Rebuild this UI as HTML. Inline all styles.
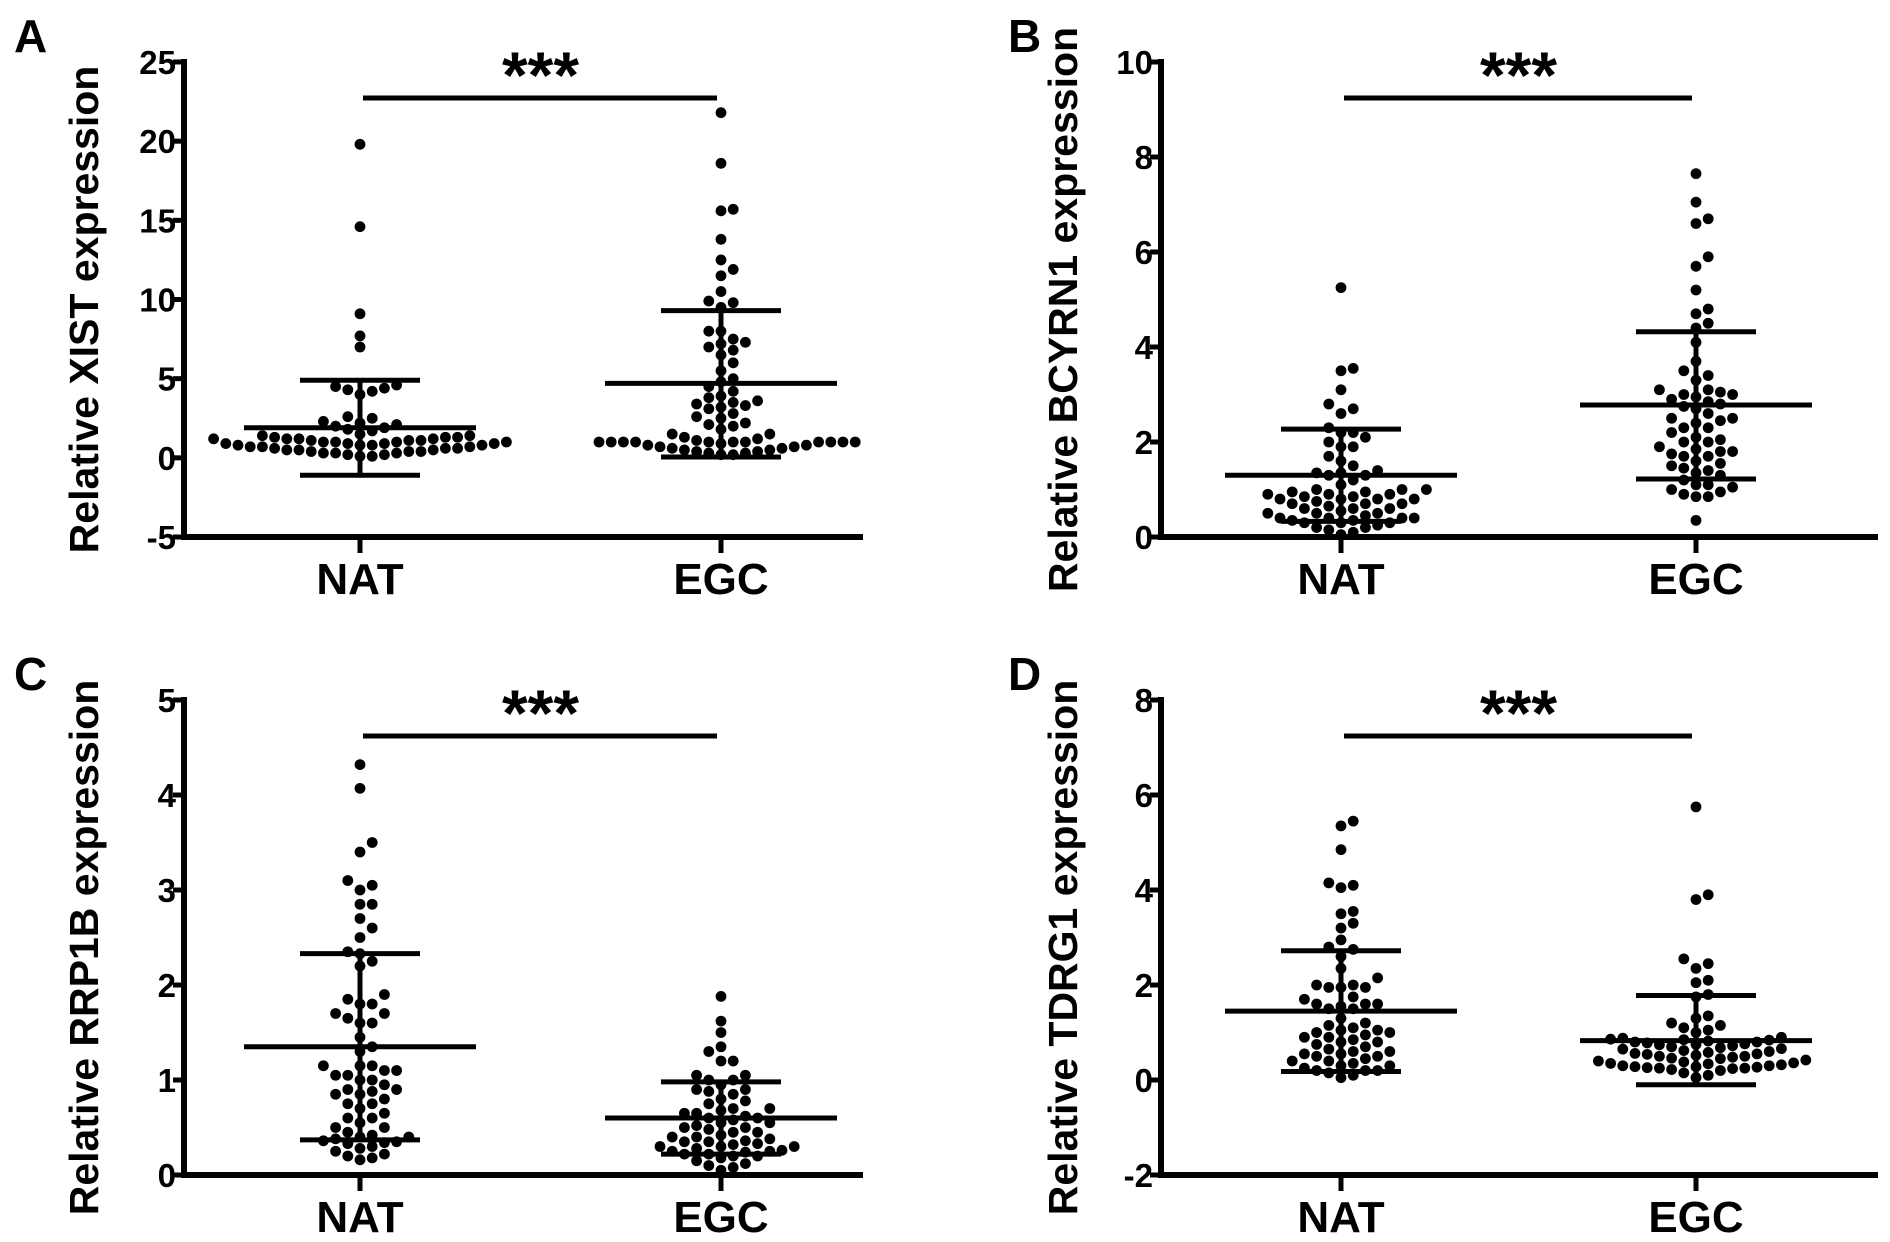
<!DOCTYPE html>
<html><head><meta charset="utf-8"><style>
html,body{margin:0;padding:0;background:#fff;}
svg{display:block;font-family:"Liberation Sans",Arial,sans-serif;font-weight:bold;}
</style></head><body>
<svg id="fig" width="1890" height="1242" viewBox="0 0 1890 1242" xmlns="http://www.w3.org/2000/svg"></svg>
<script>
const categories = ["NAT","EGC"];
const panelLetters = ["A","B","C","D"];
const yTitles = ["Relative XIST expression","Relative  BCYRN1 expression","Relative RRP1B expression","Relative TDRG1 expression"];
const yMins = [-5,0,0,-2];
const yMaxs = [25,10,5,8];
const yTickSteps = [5,2,1,2];

const xistNAT = [19.8,14.6,9.1,7.7,7.0,4.6,4.5,4.4,4.3,4.2,4.0,2.6,2.5,2.3,2.2,2.1,2.0,1.9,1.8,1.7,1.5,1.4,1.4,1.3,1.3,1.3,1.2,1.2,1.2,1.2,1.1,1.1,1.1,1.0,1.0,1.0,1.0,0.9,0.9,0.9,0.9,0.8,0.8,0.8,0.8,0.7,0.7,0.7,0.6,0.6,0.6,0.5,0.5,0.5,0.4,0.4,0.4,0.3,0.3,0.3,0.2,0.2,0.1,0.1];
const xistEGC = [21.8,18.6,15.7,15.6,13.8,12.5,11.9,11.5,10.5,9.9,9.8,9.5,8.0,8.0,7.5,7.3,7.2,7.0,6.8,6.5,6.0,5.5,5.0,4.8,4.5,4.2,3.9,3.8,3.6,3.5,3.4,3.3,3.2,3.1,2.8,2.6,2.5,2.2,2.1,2.0,1.8,1.5,1.5,1.3,1.2,1.1,1.0,1.0,1.0,1.0,1.0,1.0,1.0,1.0,1.0,1.0,1.0,0.9,0.8,0.8,0.7,0.7,0.6,0.6,0.5,0.5,0.4,0.4,0.3,0.3,0.2,0.2];
const bcyNAT = [5.25,3.55,3.5,3.1,2.8,2.7,2.6,2.3,2.2,2.2,2.1,2.0,1.9,1.9,1.7,1.6,1.5,1.4,1.35,1.35,1.3,1.3,1.2,1.1,1.0,1.0,1.0,0.95,0.95,0.9,0.9,0.9,0.85,0.85,0.8,0.8,0.8,0.8,0.75,0.7,0.7,0.7,0.65,0.6,0.6,0.6,0.55,0.5,0.5,0.5,0.45,0.4,0.4,0.4,0.4,0.35,0.35,0.3,0.3,0.3,0.25,0.2,0.2,0.15,0.1,0.05];
const bcyEGC = [7.65,7.05,6.7,6.6,5.9,5.7,5.2,4.8,4.7,4.5,4.4,4.1,3.7,3.5,3.4,3.3,3.1,3.1,3.05,3.0,3.0,2.95,2.9,2.85,2.8,2.75,2.7,2.6,2.5,2.5,2.45,2.4,2.3,2.3,2.2,2.1,2.05,2.0,2.0,1.9,1.85,1.8,1.8,1.75,1.7,1.7,1.6,1.55,1.5,1.45,1.4,1.35,1.3,1.2,1.1,1.1,1.05,1.0,0.95,0.9,0.85,0.85,0.35];
const rrpNAT = [4.32,4.07,3.5,3.4,3.1,3.05,3.0,2.85,2.85,2.7,2.6,2.5,2.35,2.33,2.25,2.2,1.9,1.85,1.8,1.8,1.7,1.7,1.65,1.6,1.6,1.45,1.35,1.3,1.15,1.15,1.15,1.1,1.1,1.05,1.05,1.0,1.0,0.95,0.9,0.9,0.88,0.85,0.85,0.8,0.75,0.75,0.7,0.65,0.6,0.6,0.55,0.5,0.5,0.45,0.42,0.4,0.4,0.38,0.36,0.35,0.34,0.33,0.3,0.28,0.25,0.22,0.2,0.18,0.16];
const rrpEGC = [1.88,1.62,1.5,1.35,1.3,1.2,1.2,1.05,1.05,1.0,1.0,0.95,0.9,0.9,0.88,0.85,0.8,0.78,0.75,0.7,0.7,0.68,0.65,0.65,0.62,0.6,0.6,0.58,0.55,0.55,0.52,0.5,0.5,0.48,0.45,0.45,0.42,0.4,0.4,0.38,0.36,0.35,0.35,0.33,0.32,0.3,0.3,0.3,0.28,0.26,0.25,0.25,0.24,0.22,0.22,0.2,0.2,0.18,0.15,0.12,0.1,0.08,0.05];
const tdrNAT = [5.45,5.35,4.85,4.15,4.1,4.05,3.55,3.5,3.3,3.2,2.95,2.8,2.75,2.6,2.35,2.15,2.0,2.0,1.95,1.95,1.95,1.75,1.7,1.6,1.6,1.6,1.55,1.5,1.5,1.3,1.2,1.15,1.1,1.05,1.05,1.0,1.0,0.95,0.9,0.9,0.85,0.8,0.8,0.75,0.7,0.65,0.6,0.6,0.55,0.55,0.5,0.5,0.45,0.4,0.4,0.35,0.3,0.3,0.25,0.2,0.2,0.2,0.15,0.1,0.05];
const tdrEGC = [5.75,3.9,3.8,2.55,2.45,2.35,2.1,2.05,1.8,1.75,1.35,1.3,1.2,1.15,1.1,1.05,1.0,0.9,0.88,0.86,0.85,0.84,0.82,0.8,0.8,0.78,0.76,0.75,0.74,0.72,0.7,0.68,0.66,0.65,0.62,0.6,0.58,0.56,0.55,0.54,0.52,0.5,0.5,0.48,0.46,0.45,0.42,0.4,0.38,0.36,0.35,0.34,0.32,0.3,0.3,0.28,0.28,0.27,0.26,0.25,0.25,0.24,0.22,0.2,0.15,0.1,0.05];

const means = [[1.9,4.7],[1.3,2.78],[1.35,0.6],[1.45,0.83]];
const sdUpper = [[4.9,9.3],[2.27,4.32],[2.33,0.98],[2.72,1.78]];
const sdLower = [[-1.1,0.05],[0.33,1.22],[0.37,0.22],[0.18,-0.1]];
const seriesData = [[xistNAT,xistEGC],[bcyNAT,bcyEGC],[rrpNAT,rrpEGC],[tdrNAT,tdrEGC]];

const NS="http://www.w3.org/2000/svg";
const svg=document.getElementById('fig');
function mk(tag,attrs,parent){const e=document.createElementNS(NS,tag);for(const k in attrs)e.setAttribute(k,attrs[k]);(parent||svg).appendChild(e);return e;}

const layouts=[
 {ax:184,top:62,bot:537,xEnd:863,cx:[360,721],lx:14,ly:52,tx:98},
 {ax:1161,top:62,bot:537,xEnd:1878,cx:[1341,1696],lx:1008,ly:52,tx:1077},
 {ax:184,top:700,bot:1175,xEnd:863,cx:[360,721],lx:14,ly:690,tx:98},
 {ax:1161,top:700,bot:1175,xEnd:1878,cx:[1341,1696],lx:1008,ly:690,tx:1077}
];

for(let p=0;p<4;p++){
 const L=layouts[p];
 const g=mk('g',{});
 
 
 const ymin=yMins[p],ymax=yMaxs[p];
 const y=v=>L.bot-(v-ymin)/(ymax-ymin)*(L.bot-L.top);
 const t=mk('text',{x:L.lx,y:L.ly,'font-size':46},g);t.textContent=panelLetters[p];
 
 const cy=(L.top+L.bot)/2+10;
 const tt=mk('text',{x:L.tx,y:cy,'font-size':41,'text-anchor':'middle',transform:`rotate(-90 ${L.tx} ${cy})`},g);tt.textContent=yTitles[p];
 
 const ya=mk('line',{x1:L.ax,y1:L.top-3,x2:L.ax,y2:L.bot+3,stroke:'#000','stroke-width':6},g);
 
 const xa=mk('line',{x1:L.ax-3,y1:L.bot,x2:L.xEnd,y2:L.bot,stroke:'#000','stroke-width':6},g);
 
 for(let v=ymin;v<=ymax+1e-9;v+=yTickSteps[p]){
  mk('line',{x1:L.ax-11,y1:y(v),x2:L.ax,y2:y(v),stroke:'#000','stroke-width':5},g);
  const tl=mk('text',{x:L.ax-8,y:y(v)+12,'font-size':33,'text-anchor':'end'},g);tl.textContent=String(v);
  
 }
 for(let c=0;c<2;c++){
  const cx=L.cx[c];
  mk('line',{x1:cx,y1:L.bot,x2:cx,y2:L.bot+16,stroke:'#000','stroke-width':5},g);
  const cl=mk('text',{x:cx,y:L.bot+57,'font-size':44,'text-anchor':'middle'},g);cl.textContent=categories[c];
  
  const vals=seriesData[p][c].slice().sort((a,b)=>a-b);
  const placed=[];const r=5.4,d=12.2;
  vals.forEach(v=>{
   const py=y(v);let px=cx;
   for(let k=0;k<40;k++){
    const off=(k===0)?0:((k%2?1:-1)*Math.ceil(k/2)*d);
    const tx=cx+off;
    if(placed.every(q=>(q[0]-tx)**2+(q[1]-py)**2>=(2*r*0.97)**2)){px=tx;break;}
   }
   placed.push([px,py]);
   const dot=mk('circle',{cx:px,cy:py,r:r,fill:'#000'},g);
   
  });
  const ml=mk('line',{x1:cx-116,y1:y(means[p][c]),x2:cx+116,y2:y(means[p][c]),stroke:'#000','stroke-width':5},g);
  
  const el=mk('line',{x1:cx,y1:y(sdUpper[p][c]),x2:cx,y2:y(sdLower[p][c]),stroke:'#000','stroke-width':5},g);
  
  [sdUpper[p][c],sdLower[p][c]].forEach(v=>{
   const cap=mk('line',{x1:cx-60,y1:y(v),x2:cx+60,y2:y(v),stroke:'#000','stroke-width':5},g);
   
  });
 }
 const sy=L.top+36;
 const sl=mk('line',{x1:L.cx[0]+3,y1:sy,x2:L.cx[1]-4,y2:sy,stroke:'#000','stroke-width':5},g);
 
 const st=mk('text',{x:(L.cx[0]+L.cx[1])/2,y:L.top+36,'font-size':66,'text-anchor':'middle'},g);st.textContent='***';
 
}
</script>
</body></html>
